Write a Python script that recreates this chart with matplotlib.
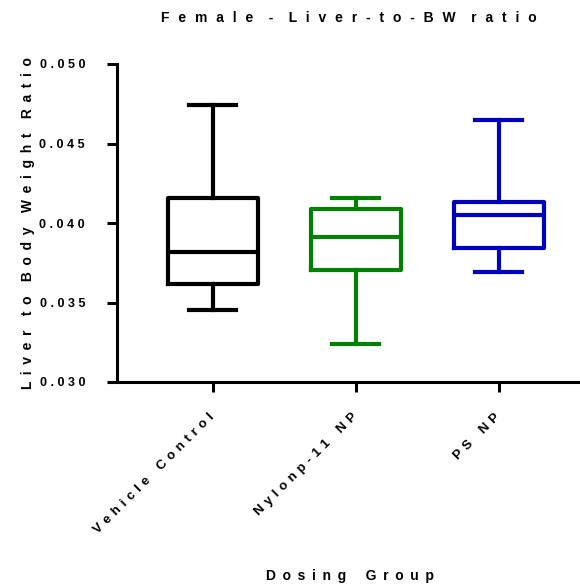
import matplotlib
matplotlib.use("Agg")
import matplotlib.pyplot as plt

plt.rcParams['font.family'] = ['Liberation Sans', 'DejaVu Sans']

categories = ["Vehicle Control", "Nylonp-11 NP", "PS NP"]
whisker_low = [0.03453, 0.03239, 0.03692]
q1 = [0.03616, 0.03704, 0.03843]
median = [0.03818, 0.03912, 0.04050]
q3 = [0.04157, 0.04088, 0.04132]
whisker_high = [0.04742, 0.04157, 0.04648]
colors = ["#000000", "#008000", "#0000BF"]
yticks = [0.030, 0.035, 0.040, 0.045, 0.050]


def spread(s, intra=" ", word="   "):
    return word.join(intra.join(w) for w in s.split(" "))


fig = plt.figure(figsize=(5.8, 5.85), dpi=100)
ax = fig.add_axes([117 / 580, 203 / 585, 463 / 580, 318 / 585])

for i in range(len(categories)):
    st = [dict(whislo=whisker_low[i], q1=q1[i], med=median[i], q3=q3[i],
               whishi=whisker_high[i], fliers=[])]
    c = colors[i]
    lw = 3.0
    ax.bxp(st, positions=[i + 1], widths=0.63, showfliers=False,
           boxprops=dict(color=c, linewidth=lw),
           medianprops=dict(color=c, linewidth=lw, solid_capstyle='butt'),
           whiskerprops=dict(color=c, linewidth=lw),
           capprops=dict(color=c, linewidth=lw),
           capwidths=0.33, manage_ticks=False)

ax.set_xlim(0.33, 3.57)
ax.set_ylim(0.030, 0.050)
ax.set_yticks(yticks)
ax.set_yticklabels([spread(f"{v:.3f}") for v in yticks], fontsize=9, fontweight='bold')
ax.set_xticks([1, 2, 3])
ax.set_xticklabels([spread(c, " \u200a", "    ") for c in categories], rotation=45, ha='right',
                   va='center', rotation_mode='anchor', fontsize=9.5, fontweight='bold')

for s in ['top', 'right']:
    ax.spines[s].set_visible(False)
for s in ['left', 'bottom']:
    ax.spines[s].set_linewidth(2.2)
ax.tick_params(axis='both', width=2.2, length=7)
ax.tick_params(axis='y', pad=16)
ax.tick_params(axis='x', pad=17)

ax.set_title(spread("Female - Liver-to-BW ratio", "  \u200a", "    "),
             fontsize=10, fontweight='bold', pad=30)
ax.set_ylabel(spread("Liver to Body Weight Ratio", " \u2009", "   \u2009"),
              fontsize=10, fontweight='bold', labelpad=3)
fig.text(350 / 580, 1 - 576 / 585, spread("Dosing Group", " \u2009", "     "),
         ha='center', va='center', fontsize=10, fontweight='bold')

fig.savefig("out.png", dpi=100)
